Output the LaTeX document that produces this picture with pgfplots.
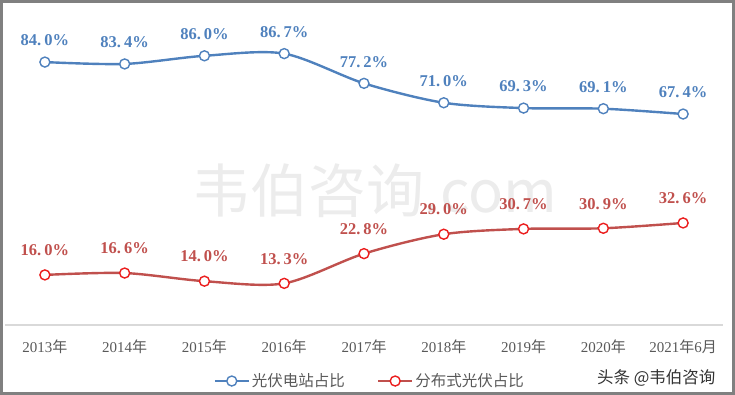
\documentclass[border=0pt]{standalone}
\usepackage{fontspec}
\setmainfont{Liberation Serif}
\newfontfamily\cjk{Noto Sans CJK SC}
\usepackage{pgfplots}
\pgfplotsset{compat=1.18}
\definecolor{bl}{RGB}{79,129,189}
\definecolor{rd}{RGB}{192,80,77}
\definecolor{rdm}{RGB}{235,30,30}
\definecolor{tk}{RGB}{89,89,89}
\definecolor{wm}{RGB}{236,236,236}
\definecolor{fr}{RGB}{128,128,128}
\begin{document}
\begin{tikzpicture}
\begin{axis}[
  scale only axis, width=718pt, height=313pt,
  xmin=-0.5, xmax=8.5, ymin=0, ymax=100,
  axis x line*=bottom, axis y line=none,
  x axis line style={-, draw=black!15, line width=1.2pt},
  xtick={0,...,8},
  xticklabels={2013{\cjk 年},2014{\cjk 年},2015{\cjk 年},2016{\cjk 年},2017{\cjk 年},2018{\cjk 年},2019{\cjk 年},2020{\cjk 年},2021{\cjk 年}6{\cjk 月}},
  major tick length=0pt, ytick=\empty,
  xticklabel style={font=\fontsize{15}{15}\selectfont, text=tk, anchor=north, yshift=-11pt},
  clip=false,
  nodes near coords={\pgfmathprintnumber[fixed,fixed zerofill,precision=1,assume math mode=true,set decimal separator={.\hspace{3pt}}]{\pgfplotspointmeta}\%},
  point meta=y,
  legend style={at={(rel axis cs:0.508,-0.179)}, anchor=center, draw=none, fill=none,
    legend columns=2, font=\cjk\fontsize{15.5}{15.5}\selectfont, text=tk,
    /tikz/every even column/.append style={column sep=30pt}},
  legend image code/.code={\draw[mark repeat=2,mark phase=2] plot coordinates {(0pt,0pt)(17pt,0pt)(34pt,0pt)};},
]
\node[text=wm, font=\cjk\fontsize{58}{58}\selectfont, anchor=center] at (axis cs:4.14,43) {韦伯咨询.com};
\addplot[smooth, tension=0.5, color=bl, line width=2.4pt, mark=*, mark size=5pt,
  mark options={fill=white, draw=bl, line width=1.4pt},
  every node near coord/.append style={font=\bfseries\fontsize{16.5}{16.5}\selectfont, text=bl, anchor=south, yshift=12pt}]
  coordinates {(0,84.0)(1,83.4)(2,86.0)(3,86.7)(4,77.2)(5,71.0)(6,69.3)(7,69.1)(8,67.4)};
\addlegendentry{光伏电站占比}
\addplot[smooth, tension=0.5, color=rd, line width=2.4pt, mark=*, mark size=5pt,
  mark options={fill=white, draw=rdm, line width=1.4pt},
  every node near coord/.append style={font=\bfseries\fontsize{16.5}{16.5}\selectfont, text=rd, anchor=south, yshift=15pt}]
  coordinates {(0,16.0)(1,16.6)(2,14.0)(3,13.3)(4,22.8)(5,29.0)(6,30.7)(7,30.9)(8,32.6)};
\addlegendentry{分布式光伏占比}
\node[text=black!80, font=\cjk\fontsize{16.5}{16.5}\selectfont, anchor=center] at (rel axis cs:0.907,-0.169) {头条 @韦伯咨询};
\coordinate (fa) at (rel axis cs:-0.00696,1.0383);
\coordinate (fb) at (rel axis cs:1.01671,-0.2236);
\end{axis}
\pgfresetboundingbox
\path[use as bounding box] (fa) rectangle (fb);
\draw[fr, line width=3pt] ([shift={(1.5pt,-1.5pt)}]fa) rectangle ([shift={(-1.5pt,1.5pt)}]fb);
\end{tikzpicture}
\end{document}
